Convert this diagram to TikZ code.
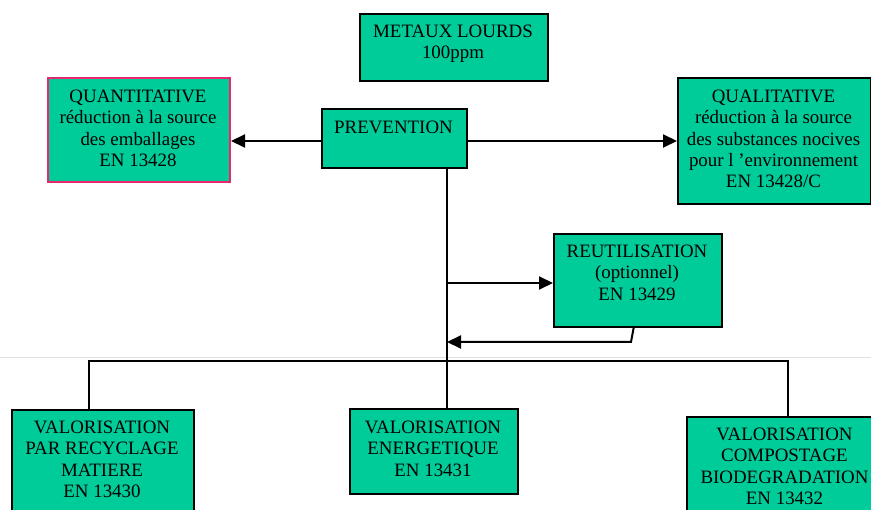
\documentclass[tikz,border=0pt]{standalone}
\usepackage{fontspec}
\setmainfont{Liberation Serif}
\usetikzlibrary{arrows.meta}
\definecolor{boxgreen}{RGB}{0,204,153}
\definecolor{boxpink}{RGB}{232,40,110}
\tikzset{
  box/.style={draw=black, fill=boxgreen, line width=2pt, inner sep=0pt, anchor=north west},
  pinkbox/.style={box, draw=boxpink},
  txt/.style={inner sep=0pt, anchor=north, align=center, font=\fontsize{18.9}{21.4}\selectfont},
  conn/.style={draw=black, line width=2pt},
  arr/.style={conn, -{Triangle[length=14pt,width=13pt]}},
  seam/.style={draw=black!12, line width=1pt},
}
\begin{document}
\begin{tikzpicture}[x=1pt,y=-1pt]
\useasboundingbox (0,0) rectangle (871,510);
\clip (0,0) rectangle (871,510);
% faint seam line
\coordinate (seaml) at (0,358);
\coordinate (seamr) at (871,358);
\draw[seam] (seaml) -- (seamr);
% boxes
\node[box, minimum width=188, minimum height=67] (metaux) at (359,13) {};
\node[pinkbox, minimum width=182, minimum height=104] (quant) at (47,77) {};
\node[box, minimum width=145, minimum height=59] (prev) at (321,108) {};
\node[box, minimum width=193, minimum height=126] (qual) at (677,77) {};
\node[box, minimum width=168, minimum height=93] (reut) at (553,233) {};
\node[box, minimum width=182, minimum height=130] (recyc) at (11,409) {};
\node[box, minimum width=168, minimum height=85] (energ) at (349,408) {};
\node[box, minimum width=197, minimum height=130] (compo) at (686,416) {};
% texts
\node[txt] (tmetaux) at (453,24.5) {METAUX LOURDS\\100ppm};
\node[txt] (tquant) at (138,89.5) {QUANTITATIVE\\réduction à la source\\des emballages\\EN 13428};
\node[txt] (tprev) at (393.5,120.5) {PREVENTION};
\node[txt] (tqual) at (773.5,89.5) {QUALITATIVE\\réduction à la source\\des substances nocives\\pour l ’environnement\\EN 13428/C};
\node[txt] (treut) at (637,244.5) {REUTILISATION\\(optionnel)\\EN 13429};
\node[txt] (trecyc) at (102,420.5) {VALORISATION\\PAR RECYCLAGE\\MATIERE\\EN 13430};
\node[txt] (tenerg) at (433,420.5) {VALORISATION\\ENERGETIQUE\\EN 13431};
\node[txt] (tcompo) at (784.5,427.5) {VALORISATION\\COMPOSTAGE\\BIODEGRADATION\\EN 13432};
% coordinates
\coordinate (pbot) at (447,167);
\coordinate (jreut) at (447,283);
\coordinate (jret) at (447,342);
\coordinate (rbot) at (634,326);
\coordinate (rbend) at (631,342);
\coordinate (busl) at (89,361);
\coordinate (busr) at (788,361);
% connectors
\draw[arr] (prev.west |- 0,141) -- (quant.east |- 0,141);
\draw[arr] (prev.east |- 0,141) -- (qual.west |- 0,141);
\draw[conn] (pbot) -- (energ.north -| pbot);
\draw[arr] (jreut) -- (reut.west |- jreut);
\draw[arr] (rbot) -- (rbend) -- (jret);
\draw[conn] (recyc.north -| busl) -- (busl) -- (busr) -- (compo.north -| busr);
\end{tikzpicture}
\end{document}
